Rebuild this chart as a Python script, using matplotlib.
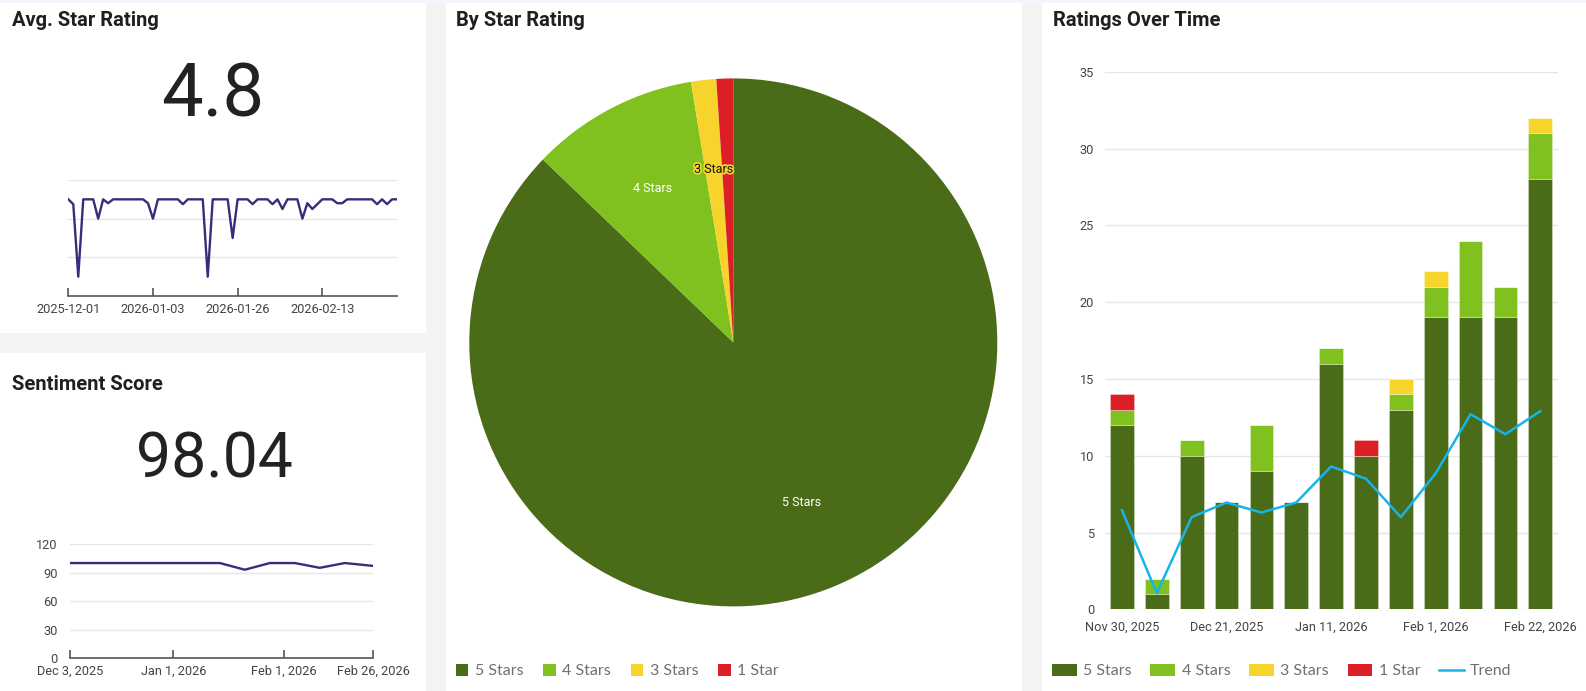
import matplotlib
matplotlib.use("Agg")
import matplotlib.pyplot as plt
import matplotlib.patheffects as pe
from matplotlib.patches import Rectangle, Patch
from matplotlib.lines import Line2D
import numpy as np
import pandas as pd

plt.rcParams['font.family'] = ['Roboto', 'DejaVu Sans']

# ---- data ----
# avg. star rating per day with reviews (categorical axis)
avg_rating = [5, 4.75, 1, 5, 5, 5, 4, 5, 4.8, 5,
              5, 5, 5, 5, 5, 5, 4.8, 4, 5, 5,
              5, 5, 5, 4.75, 5, 5, 5, 5, 1, 5,
              5, 5, 5, 3, 5, 5, 5, 4.75, 5, 5,
              5, 4.75, 5, 4.5, 5, 5, 5, 4, 4.8, 4.5,
              4.75, 5, 5, 5, 4.8, 4.8, 5, 5, 5, 5,
              5, 5, 4.75, 5, 4.75, 5, 5]
avg_tick_pos = [0, 17, 34, 51]
avg_tick_labels = ['2025-12-01', '2026-01-03', '2026-01-26', '2026-02-13']

# weekly sentiment score
sent_dates = ['2025-12-03', '2025-12-10', '2025-12-17', '2025-12-24', '2025-12-31',
              '2026-01-07', '2026-01-14', '2026-01-21', '2026-01-28', '2026-02-04',
              '2026-02-11', '2026-02-18', '2026-02-26']
sent_score = [100, 100, 100, 100, 100, 100, 100, 93, 100, 100, 95, 100, 97]
sent_ticks = ['2025-12-03', '2026-01-01', '2026-02-01', '2026-02-26']
sent_tick_labels = ['Dec 3, 2025', 'Jan 1, 2026', 'Feb 1, 2026', 'Feb 26, 2026']

# weekly rating counts
weeks = ['Nov 30, 2025', 'Dec 7, 2025', 'Dec 14, 2025', 'Dec 21, 2025', 'Dec 28, 2025',
         'Jan 4, 2026', 'Jan 11, 2026', 'Jan 18, 2026', 'Jan 25, 2026', 'Feb 1, 2026',
         'Feb 8, 2026', 'Feb 15, 2026', 'Feb 22, 2026']
five_star = [12, 1, 10, 7, 9, 7, 16, 10, 13, 19, 19, 19, 28]
four_star = [1, 1, 1, 0, 3, 0, 1, 0, 1, 2, 5, 2, 3]
three_star = [0, 0, 0, 0, 0, 0, 0, 0, 1, 1, 0, 0, 1]
one_star = [1, 0, 0, 0, 0, 0, 0, 1, 0, 0, 0, 0, 0]
trend = [6.45, 1.05, 6.0, 6.95, 6.3, 6.95, 9.3, 8.5, 6.0, 8.85, 12.7, 11.4, 12.9]

categories = ['5 Stars', '4 Stars', '3 Stars', '1 Star']
colors = ['#4a6b17', '#80c11f', '#f6d42b', '#dc1f27']
purple = '#3c2b7a'
tick_col = '#444444'
grid_col = '#e6e6e6'

fig = plt.figure(figsize=(15.86, 6.91), dpi=100, facecolor='#f4f4f5')
W, H = 1586.0, 691.0


def px(x0, y0, x1, y1):
    # pixel box (top-left origin) -> figure fraction rect
    return [x0 / W, 1 - y1 / H, (x1 - x0) / W, (y1 - y0) / H]


# panels
for box in [(0, 3, 426, 333), (0, 353, 426, 691), (446, 3, 1022, 691), (1042, 3, 1586, 691)]:
    r = px(*box)
    fig.patches.append(Rectangle((r[0], r[1]), r[2], r[3], transform=fig.transFigure,
                                 facecolor='white', edgecolor='none', zorder=-10))
fig.patches.append(Rectangle((0, 1 - 3 / H), 1, 3 / H, transform=fig.transFigure,
                             facecolor='#f5f6fd', edgecolor='none', zorder=-10))

title_kw = dict(fontsize=14.5, fontweight='bold', color='#1f1f1f', va='center', ha='left')
fig.text(12 / W, 1 - 21 / H, 'Avg. Star Rating', **title_kw)
fig.text(12 / W, 1 - 385 / H, 'Sentiment Score', **title_kw)
fig.text(456 / W, 1 - 21 / H, 'By Star Rating', **title_kw)
fig.text(1053 / W, 1 - 21 / H, 'Ratings Over Time', **title_kw)

# big numbers
fig.text(213 / W, 1 - 96 / H, '4.8', fontsize=53.5, color='#222222', ha='center', va='center')
fig.text(214 / W, 1 - 460 / H, '98.04', fontsize=45, color='#222222', ha='center', va='center')

# ---- avg star rating sparkline ----
ax1 = fig.add_axes(px(68.3, 180, 397, 296))
ax1.plot(range(len(avg_rating)), avg_rating, color=purple, lw=1.7, zorder=3)
ax1.set_xlim(0, len(avg_rating) - 1)
ax1.set_ylim(0, 6)
ax1.set_yticks([2, 4, 6])
ax1.yaxis.grid(True, color=grid_col, lw=1)
ax1.tick_params(axis='y', length=0, labelleft=False)
ax1.set_xticks(avg_tick_pos)
ax1.set_xticklabels(avg_tick_labels)
ax1.tick_params(axis='x', direction='in', length=6, width=1.2, color='#555555',
                labelsize=9.2, labelcolor=tick_col, pad=5)
for s in ['top', 'right', 'left']:
    ax1.spines[s].set_visible(False)
ax1.spines['bottom'].set_color('#555555')
ax1.spines['bottom'].set_linewidth(1.2)
ax1.set_facecolor('none')

# ---- sentiment score line ----
ax2 = fig.add_axes(px(70, 544, 373.3, 658.3))
sd = pd.to_datetime(sent_dates)
ax2.plot(sd, sent_score, color=purple, lw=1.7, zorder=3)
ax2.set_xlim(pd.Timestamp(sent_ticks[0]), pd.Timestamp(sent_ticks[-1]))
ax2.set_ylim(0, 120)
ax2.set_yticks([0, 30, 60, 90, 120])
ax2.yaxis.grid(True, color=grid_col, lw=1)
ax2.tick_params(axis='y', length=0, labelsize=9.2, labelcolor=tick_col, pad=9)
ax2.set_xticks(pd.to_datetime(sent_ticks))
ax2.set_xticklabels(sent_tick_labels)
ax2.tick_params(axis='x', direction='in', length=6, width=1.2, color='#555555',
                labelsize=9.2, labelcolor=tick_col, pad=5)
for s in ['top', 'right', 'left']:
    ax2.spines[s].set_visible(False)
ax2.spines['bottom'].set_color('#555555')
ax2.spines['bottom'].set_linewidth(1.2)
ax2.set_facecolor('none')

# ---- pie ----
totals = [sum(five_star), sum(four_star), sum(three_star), sum(one_star)]
share = np.array(totals) / sum(totals)
pie_labels = [c if s > 0.012 else '' for c, s in zip(categories, share)]
ax3 = fig.add_axes(px(733.3 - 264, 342.4 - 264, 733.3 + 264, 342.4 + 264))
wedges, texts = ax3.pie(totals, colors=colors, startangle=90, counterclock=False,
                        labels=pie_labels, labeldistance=0.66,
                        textprops=dict(fontsize=9, color='white'),
                        wedgeprops=dict(linewidth=0))
for t in texts:
    t.set_ha('center')
    t.set_va('center')
texts[2].set_color('#111111')
texts[2].set_path_effects([pe.withStroke(linewidth=2.5, foreground=colors[2])])
ax3.set_xlim(-1, 1)
ax3.set_ylim(-1, 1)
ax3.set_aspect('auto')

leg_kw = dict(frameon=False, borderpad=0, borderaxespad=0, handletextpad=0.4,
              prop={'family': 'Lato', 'size': 11.5}, labelcolor='#707070')
fig.legend(wedges, categories, loc='center left', bbox_to_anchor=(456 / W, 1 - 671 / H),
           ncol=4, handlelength=0.78, handleheight=0.78, columnspacing=1.25, **leg_kw)

# ---- ratings over time ----
ax4 = fig.add_axes(px(1104.5, 71.7, 1557.7, 609.3))
x = np.arange(len(weeks))
bottom = np.zeros(len(weeks))
bar_handles = []
for vals, col, name in zip([five_star, four_star, three_star, one_star], colors, categories):
    ax4.bar(x, vals, width=0.68, bottom=bottom, color=col,
            edgecolor=(1, 1, 1, 0.35), linewidth=0.6, zorder=2)
    bottom += np.array(vals)
    bar_handles.append(Patch(facecolor=col, label=name))
ax4.plot(x, trend, color='#17b3ea', lw=1.8, zorder=3)
ax4.set_xlim(-0.5, len(weeks) - 0.5)
ax4.set_ylim(0, 35)
ax4.set_yticks(range(0, 36, 5))
ax4.yaxis.grid(True, color=grid_col, lw=1, zorder=0)
ax4.set_axisbelow(True)
ax4.set_xticks(x[::3])
ax4.set_xticklabels(weeks[::3])
ax4.tick_params(axis='both', length=0, labelsize=9.2, labelcolor=tick_col)
ax4.tick_params(axis='y', pad=7.5)
ax4.tick_params(axis='x', pad=8)
for s in ax4.spines.values():
    s.set_visible(False)
ax4.set_facecolor('none')

bar_handles.append(Line2D([], [], color='#17b3ea', lw=1.8, label='Trend'))
fig.legend(handles=bar_handles, loc='center left', bbox_to_anchor=(1052 / W, 1 - 671 / H),
           ncol=5, handlelength=1.55, handleheight=0.78, columnspacing=1.17, **leg_kw)

fig.savefig('out.png', dpi=100, facecolor=fig.get_facecolor())
